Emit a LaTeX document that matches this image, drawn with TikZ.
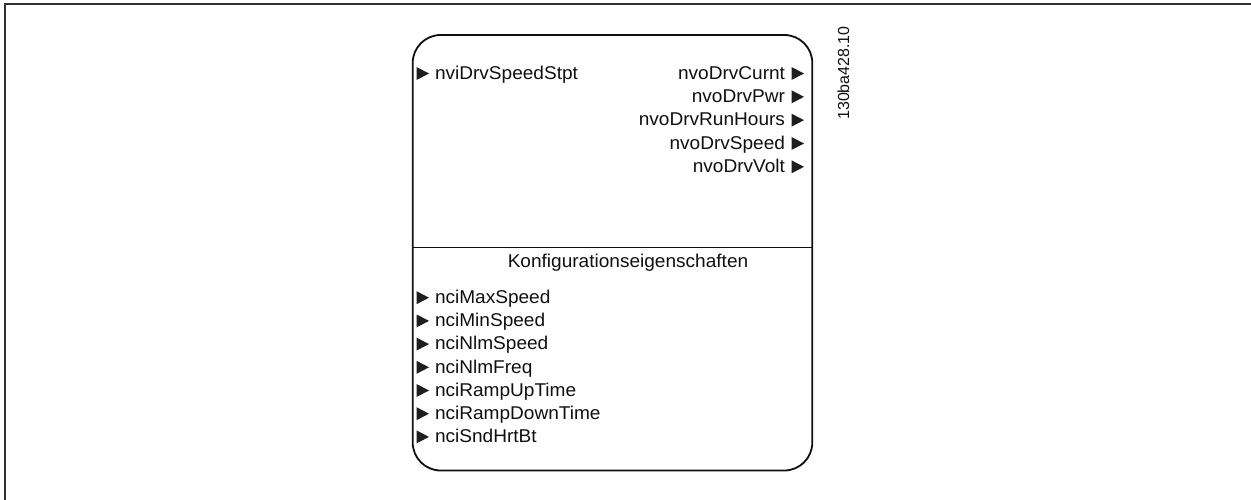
\documentclass[tikz,border=0pt]{standalone}
\usepackage{fontspec}
\setmainfont{Liberation Sans}[FakeStretch=1.03]
\newfontfamily\labelfont{Liberation Sans}
\definecolor{ink}{RGB}{15,15,15}
\definecolor{tri}{RGB}{30,30,30}
\definecolor{frame}{RGB}{50,50,50}
\begin{document}
\begin{tikzpicture}[x=1pt,y=-1pt,
  txt/.style={inner sep=0pt,outer sep=0pt,text=ink,font=\fontsize{18.5}{21}\selectfont},
  inw/.style={txt,anchor=base west},
  ine/.style={txt,anchor=base east},
  tri/.style={fill=tri}]
\useasboundingbox (0,0) rectangle (1251,500);
% outer frame (top and left only)
\draw[frame,line width=1.5pt] (5,500) -- (5,4) -- (1251,4);
% main box
\draw[ink,line width=1.8pt,rounded corners=28pt] (412.7,35) rectangle (812.3,470.5);
\draw[ink,line width=1.5pt] (412.7,247.3) -- (812.3,247.3);
% inputs
\node[inw] (i1) at (435,79.3) {nviDrvSpeedStpt};
\fill[tri] ([shift={(-18.5,-12.3)}]i1.base west) -- ++(12.5,6.5) -- ++(-12.5,6.5) -- cycle;
% outputs
\foreach \n/\t [count=\k from 0] in {o1/nvoDrvCurnt,o2/nvoDrvPwr,o3/nvoDrvRunHours,o4/nvoDrvSpeed,o5/nvoDrvVolt}{
  \node[ine] (\n) at (785,79.3+23.33*\k) {\t};
  \fill[tri] ([shift={(6.5,-12.3)}]\n.base east) -- ++(12.5,6.5) -- ++(-12.5,6.5) -- cycle;
}
% config section
\node[txt,anchor=base] (cfg) at (628,267.5) {Konfigurationseigenschaften};
\foreach \n/\t [count=\k from 0] in {c1/nciMaxSpeed,c2/nciMinSpeed,c3/nciNlmSpeed,c4/nciNlmFreq,c5/nciRampUpTime,c6/nciRampDownTime,c7/nciSndHrtBt}{
  \node[inw] (\n) at (435,303.5+23.2*\k) {\t};
  \fill[tri] ([shift={(-18.5,-12.3)}]\n.base west) -- ++(12.5,6.5) -- ++(-12.5,6.5) -- cycle;
}
% drawing number
\node[inner sep=0pt,text=ink,rotate=90,font=\labelfont\fontsize{16}{18}\selectfont] (lbl) at (843.5,73) {130ba428.10};
\end{tikzpicture}
\end{document}
